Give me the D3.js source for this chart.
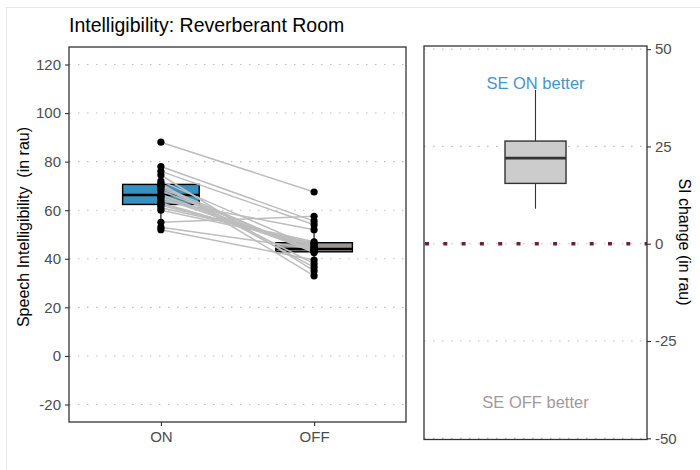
<!DOCTYPE html>
<html>
<head>
<meta charset="utf-8">
<script src="https://cdn.jsdelivr.net/npm/d3@7"></script>
<style>
  body { margin: 0; background: #ffffff; }
  svg text { font-family: "Liberation Sans", Arial, sans-serif; }
</style>
</head>
<body>
<div id="chart"></div>
<script>
/** Per-subject speech intelligibility (rau), SE switched ON and OFF, same order */
var conditions = ["ON", "OFF"];
var siOn  = [88, 78, 76, 74.5, 72, 71, 70.5, 70, 70, 69, 68, 66.5, 66, 64, 65.5, 65, 63, 62.5, 62, 61, 60, 55, 53, 52];
var siOff = [67.5, 55.5, 54, 35, 44.5, 33, 36.5, 38, 42.5, 43, 43.5, 43.5, 44, 52, 43, 44, 45, 45.5, 46, 47, 46.5, 57.5, 44, 39.5];
var leftTicks = [-20, 0, 20, 40, 60, 80, 100, 120];
var rightTicks = [-50, -25, 0, 25, 50];
var boxColors = { ON: "#3690c0", OFF: "#9c9292" };

var width = 700, height = 470;
var plainNumber = function(d) { return String(d); };

var svg = d3.select("#chart")
  .append("svg")
  .attr("width", width)
  .attr("height", height);

/** faint outer frame */
svg.append("rect")
  .attr("x", 6.5).attr("y", 7.5)
  .attr("width", width).attr("height", height)
  .attr("fill", "#ffffff")
  .attr("stroke", "#e6e6e6");

/** Box statistics like ggplot (type 7 quantiles, 1.5 IQR whiskers) */
function boxStats(values)
{
  var s = values.slice().sort(d3.ascending);
  var q1 = d3.quantileSorted(s, 0.25), med = d3.quantileSorted(s, 0.5), q3 = d3.quantileSorted(s, 0.75);
  var iqr = q3 - q1;
  var inside = s.filter(function(v) { return v >= q1 - 1.5 * iqr && v <= q3 + 1.5 * iqr; });
  return { q1: q1, med: med, q3: q3, lo: d3.min(inside), hi: d3.max(inside) };
}

function drawBox(g, cx, bw, st, yScale, fill, stroke)
{
  g.append("line")
    .attr("x1", cx).attr("x2", cx)
    .attr("y1", yScale(st.hi)).attr("y2", yScale(st.q3))
    .attr("stroke", stroke).attr("stroke-width", 1.1);
  g.append("line")
    .attr("x1", cx).attr("x2", cx)
    .attr("y1", yScale(st.q1)).attr("y2", yScale(st.lo))
    .attr("stroke", stroke).attr("stroke-width", 1.1);
  g.append("rect")
    .attr("x", cx - bw / 2).attr("width", bw)
    .attr("y", yScale(st.q3)).attr("height", yScale(st.q1) - yScale(st.q3))
    .attr("fill", fill).attr("stroke", stroke).attr("stroke-width", 1.4);
  g.append("line")
    .attr("x1", cx - bw / 2).attr("x2", cx + bw / 2)
    .attr("y1", yScale(st.med)).attr("y2", yScale(st.med))
    .attr("stroke", stroke).attr("stroke-width", 2.6);
}

/** ---------- left panel ---------- */
var L = { x0: 69, x1: 406, y0: 47, y1: 422 };
var x = d3.scalePoint().domain(conditions).range([L.x0, L.x1]).padding(0.6);
var y = d3.scaleLinear().domain([-27.2, 127.2]).range([L.y1, L.y0]);

var left = svg.append("g");

left.selectAll(".grid")
  .data(leftTicks).enter()
  .append("line")
  .attr("x1", L.x0).attr("x2", L.x1)
  .attr("y1", function(d) { return y(d); }).attr("y2", function(d) { return y(d); })
  .attr("stroke", "#bdbdbd").attr("stroke-width", 1.1)
  .attr("stroke-dasharray", "1.5,7.5");

var boxW = x.step() * 0.5;
drawBox(left, x("ON"), boxW, boxStats(siOn), y, boxColors.ON, "#000000");
drawBox(left, x("OFF"), boxW, boxStats(siOff), y, boxColors.OFF, "#000000");

/** paired lines per subject */
left.selectAll(".pair")
  .data(siOn.map(function(v, i) { return [v, siOff[i]]; }))
  .enter()
  .append("line")
  .attr("x1", x("ON")).attr("x2", x("OFF"))
  .attr("y1", function(d) { return y(d[0]); })
  .attr("y2", function(d) { return y(d[1]); })
  .attr("stroke", "#bdbdbd").attr("stroke-width", 1.5);

left.selectAll(".ptOn")
  .data(siOn).enter()
  .append("circle")
  .attr("cx", x("ON")).attr("cy", function(d) { return y(d); })
  .attr("r", 3.6).attr("fill", "#000000");
left.selectAll(".ptOff")
  .data(siOff).enter()
  .append("circle")
  .attr("cx", x("OFF")).attr("cy", function(d) { return y(d); })
  .attr("r", 3.6).attr("fill", "#000000");

left.append("rect")
  .attr("x", L.x0).attr("y", L.y0)
  .attr("width", L.x1 - L.x0).attr("height", L.y1 - L.y0)
  .attr("fill", "none").attr("stroke", "#333333").attr("stroke-width", 1.3);

var yAxis = left.append("g")
  .attr("transform", "translate(" + L.x0 + ",0)")
  .call(d3.axisLeft(y).tickValues(leftTicks).tickFormat(plainNumber).tickSize(4).tickPadding(4));
var xAxis = left.append("g")
  .attr("transform", "translate(0," + L.y1 + ")")
  .call(d3.axisBottom(x).tickSize(4).tickPadding(5));
[yAxis, xAxis].forEach(function(a) {
  a.select(".domain").remove();
  a.selectAll(".tick line").attr("stroke", "#333333").attr("stroke-width", 1.1);
  a.selectAll(".tick text").attr("fill", "#4d4d4d").style("font-size", "15px");
});

left.append("text")
  .attr("transform", "translate(29,227) rotate(-90)")
  .attr("text-anchor", "middle")
  .style("font-size", "16px")
  .style("white-space", "pre")
  .attr("fill", "#000000")
  .text("Speech Intelligibility  (in rau)");

svg.append("text")
  .attr("x", 69).attr("y", 32)
  .style("font-size", "19.5px")
  .attr("fill", "#000000")
  .text("Intelligibility: Reverberant Room");

/** ---------- right panel: change ON - OFF ---------- */
var R = { x0: 424, x1: 647, y0: 46, y1: 439.5 };
var siChange = siOn.map(function(v, i) { return v - siOff[i]; });
var xr = d3.scalePoint().domain(["change"]).range([R.x0, R.x1]).padding(0.5);
var yr = d3.scaleLinear().domain([-50.3, 50.8]).range([R.y1, R.y0]);

var right = svg.append("g");

right.selectAll(".grid")
  .data(rightTicks).enter()
  .append("line")
  .attr("x1", R.x0).attr("x2", R.x1)
  .attr("y1", function(d) { return yr(d); }).attr("y2", function(d) { return yr(d); })
  .attr("stroke", "#bdbdbd").attr("stroke-width", 1.1)
  .attr("stroke-dasharray", "1.5,7.5");

/** zero reference line */
right.append("line")
  .attr("x1", R.x0 + 1).attr("x2", R.x1)
  .attr("y1", yr(0)).attr("y2", yr(0))
  .attr("stroke", "#6e1f3d").attr("stroke-width", 3.5)
  .attr("stroke-dasharray", "4,14.3");

drawBox(right, xr("change"), 61, boxStats(siChange), yr, "#cccccc", "#333333");

right.append("text")
  .attr("x", xr("change")).attr("y", 89)
  .attr("text-anchor", "middle")
  .style("font-size", "16.5px")
  .attr("fill", "#4596c8")
  .text("SE ON better");
right.append("text")
  .attr("x", xr("change")).attr("y", 408)
  .attr("text-anchor", "middle")
  .style("font-size", "16.5px")
  .attr("fill", "#a39999")
  .text("SE OFF better");

right.append("rect")
  .attr("x", R.x0).attr("y", R.y0)
  .attr("width", R.x1 - R.x0).attr("height", R.y1 - R.y0)
  .attr("fill", "none").attr("stroke", "#333333").attr("stroke-width", 1.3);

var yAxisR = right.append("g")
  .attr("transform", "translate(" + R.x1 + ",0)")
  .call(d3.axisRight(yr).tickValues(rightTicks).tickFormat(plainNumber).tickSize(4).tickPadding(4));
yAxisR.select(".domain").remove();
yAxisR.selectAll(".tick line").attr("stroke", "#333333").attr("stroke-width", 1.1);
yAxisR.selectAll(".tick text").attr("fill", "#4d4d4d").style("font-size", "15px");

right.append("text")
  .attr("transform", "translate(679,242) rotate(90)")
  .attr("text-anchor", "middle")
  .style("font-size", "16px")
  .attr("fill", "#000000")
  .text("SI change (in rau)");
</script>
</body>
</html>
